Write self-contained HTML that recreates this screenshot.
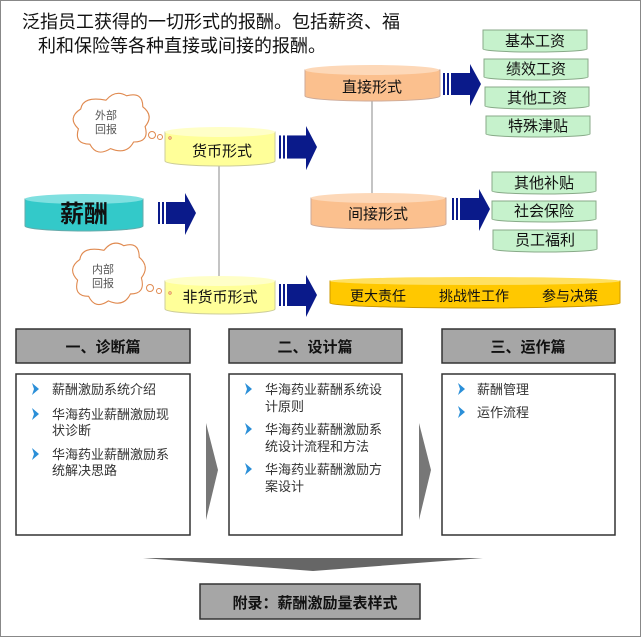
<!DOCTYPE html>
<html><head><meta charset="utf-8"><style>
body{margin:0;background:#fff}
svg text{font-family:"Liberation Sans","Noto Sans CJK SC",sans-serif}
</style></head><body>
<svg width="643" height="639" viewBox="0 0 643 639" xmlns="http://www.w3.org/2000/svg">
<rect x="0.5" y="0.5" width="640" height="636" fill="#fff" stroke="#888"/>
<text x="22" y="28" font-size="18" fill="#111">泛指员工获得的一切形式的报酬。包括薪资、福</text>
<text x="38" y="52" font-size="18" fill="#111">利和保险等各种直接或间接的报酬。</text>

<defs>
<g id="arr"><rect x="0" y="9" width="2" height="22" fill="#0a1a8a"/><rect x="4" y="9" width="2" height="22" fill="#0a1a8a"/><rect x="8" y="9" width="20" height="22" fill="#0a1a8a"/><polygon points="27,0 38,20 27,42" fill="#0a1a8a"/></g>
<path id="cloud" d="M0,-18 q8,-10 18,-4 q14,-4 14,10 q10,8 2,18 q4,14 -10,14 q-6,12 -20,6 q-12,8 -18,-4 q-14,0 -10,-14 q-10,-10 2,-18 q2,-12 22,-8z"/>
</defs>

<line x1="219" y1="165" x2="219" y2="277" stroke="#888"/>
<line x1="372" y1="100" x2="372" y2="194" stroke="#888"/>

<path d="M25,199 L25,226 A59,5 0 0 0 143,226 L143,199 Z" fill="#33c9c9" stroke="#6aa" />
<ellipse cx="84" cy="199" rx="59" ry="5" fill="#7fe0e0"/>
<text x="84" y="222" font-size="24" text-anchor="middle" font-weight="bold" fill="#111">薪酬</text>
<use href="#arr" transform="translate(158,193)"/>

<path d="M165,132 L165,161 A55,5 0 0 0 275,161 L275,132 Z" fill="#ffff99" stroke="#cc9"/>
<ellipse cx="220" cy="132" rx="55" ry="5" fill="#ffffc8"/>
<text x="222" y="156" font-size="15" text-anchor="middle" fill="#111">货币形式</text>
<use href="#arr" transform="translate(279,126) scale(1,1.05)"/>

<path d="M165,281 L165,309 A55,5 0 0 0 275,309 L275,281 Z" fill="#ffff99" stroke="#cc9"/>
<ellipse cx="220" cy="281" rx="55" ry="5" fill="#ffffc8"/>
<text x="220" y="302" font-size="15" text-anchor="middle" fill="#111">非货币形式</text>
<use href="#arr" transform="translate(279,275)"/>

<g fill="#fff" stroke="#e08a50" stroke-width="1">
<use href="#cloud" transform="translate(106,120) scale(1.15,1.1)"/>
<circle cx="152" cy="135" r="3.5"/><circle cx="160" cy="137" r="2.5"/><circle cx="170" cy="138" r="1.2"/>
<use href="#cloud" transform="translate(104,271) scale(1.1,1.15)"/>
<circle cx="150" cy="288" r="3.5"/><circle cx="159" cy="291" r="2.5"/><circle cx="170" cy="293" r="1.2"/>
</g>
<text x="106" y="119" font-size="11" text-anchor="middle" fill="#555">外部</text>
<text x="106" y="133" font-size="11" text-anchor="middle" fill="#555">回报</text>
<text x="103" y="273" font-size="11" text-anchor="middle" fill="#555">内部</text>
<text x="103" y="287" font-size="11" text-anchor="middle" fill="#555">回报</text>

<path d="M305,70 L305,96 A67,5 0 0 0 440,96 L440,70 Z" fill="#fbc08e" stroke="#ca9"/>
<ellipse cx="372" cy="70" rx="67" ry="5" fill="#fdd8b8"/>
<text x="372" y="92" font-size="15" text-anchor="middle" fill="#111">直接形式</text>
<use href="#arr" transform="translate(443,64)"/>

<path d="M311,198 L311,224 A67,5 0 0 0 446,224 L446,198 Z" fill="#fbc08e" stroke="#ca9"/>
<ellipse cx="378" cy="198" rx="67" ry="5" fill="#fdd8b8"/>
<text x="378" y="219" font-size="15" text-anchor="middle" fill="#111">间接形式</text>
<use href="#arr" transform="translate(452,189)"/>

<g fill="#c6f2cc" stroke="#8a8">
<path d="M483,30 L483,49 A52,3 0 0 0 587,49 L587,30 Z"/>
<path d="M484,59 L484,77 A52,3 0 0 0 588,77 L588,59 Z"/>
<path d="M485,87 L485,106 A52,3 0 0 0 589,106 L589,87 Z"/>
<path d="M486,116 L486,134 A52,3 0 0 0 590,134 L590,116 Z"/>
<path d="M492,172 L492,191 A52,3 0 0 0 596,191 L596,172 Z"/>
<path d="M492,201 L492,219 A52,3 0 0 0 596,219 L596,201 Z"/>
<path d="M493,230 L493,249 A52,3 0 0 0 597,249 L597,230 Z"/>
</g>
<g font-size="15" text-anchor="middle" fill="#111">
<text x="535" y="46">基本工资</text><text x="536" y="74">绩效工资</text><text x="537" y="103">其他工资</text><text x="538" y="131">特殊津贴</text>
<text x="544" y="188">其他补贴</text><text x="544" y="216">社会保险</text><text x="545" y="245">员工福利</text>
</g>

<path d="M330,281 L330,303 A145,5 0 0 0 620,303 L620,281 Z" fill="#ffc800" stroke="#c90"/>
<ellipse cx="475" cy="281" rx="145" ry="4" fill="#ffe060"/>
<g font-size="14" text-anchor="middle" fill="#111">
<text x="378" y="301">更大责任</text><text x="474" y="301">挑战性工作</text><text x="570" y="301">参与决策</text>
</g>

<g stroke="#333" stroke-width="1.5">
<rect x="16" y="329" width="174" height="34" fill="#a6a6a6"/>
<rect x="229" y="329" width="173" height="34" fill="#a6a6a6"/>
<rect x="442" y="329" width="173" height="34" fill="#a6a6a6"/>
<rect x="16" y="374" width="174" height="161" fill="#fff"/>
<rect x="229" y="374" width="173" height="161" fill="#fff"/>
<rect x="442" y="374" width="173" height="161" fill="#fff"/>
<rect x="200" y="584" width="220" height="35" fill="#a6a6a6"/>
</g>
<g font-size="15" font-weight="bold" text-anchor="middle" fill="#111">
<text x="103" y="352">一、诊断篇</text><text x="315" y="352">二、设计篇</text><text x="528" y="352">三、运作篇</text>
<text x="315" y="608">附录：薪酬激励量表样式</text>
</g>
<polygon points="206,423 218,470 206,520" fill="#777"/>
<polygon points="419,423 431,470 419,520" fill="#777"/>
<polygon points="143,558 483,558 313,571" fill="#666"/>
<g fill="#2b8fd8">
<polygon points="32,383 39,389 32,395 34,389"/>
<polygon points="32,408 39,414 32,420 34,414"/>
<polygon points="32,448 39,454 32,460 34,454"/>
<polygon points="245,383 252,389 245,395 247,389"/>
<polygon points="245,423 252,429 245,435 247,429"/>
<polygon points="245,463 252,469 245,475 247,469"/>
<polygon points="458,383 465,389 458,395 460,389"/>
<polygon points="458,406 465,412 458,418 460,412"/>
</g>
<g font-size="13" fill="#333" font-family="'Liberation Serif','Noto Serif CJK SC',serif">
<text x="52" y="394">薪酬激励系统介绍</text>
<text x="52" y="419">华海药业薪酬激励现</text><text x="52" y="435">状诊断</text>
<text x="52" y="459">华海药业薪酬激励系</text><text x="52" y="475">统解决思路</text>
<text x="265" y="394">华海药业薪酬系统设</text><text x="265" y="411">计原则</text>
<text x="265" y="434">华海药业薪酬激励系</text><text x="265" y="451">统设计流程和方法</text>
<text x="265" y="474">华海药业薪酬激励方</text><text x="265" y="491">案设计</text>
<text x="477" y="394">薪酬管理</text><text x="477" y="417">运作流程</text>
</g>
</svg>
</body></html>
